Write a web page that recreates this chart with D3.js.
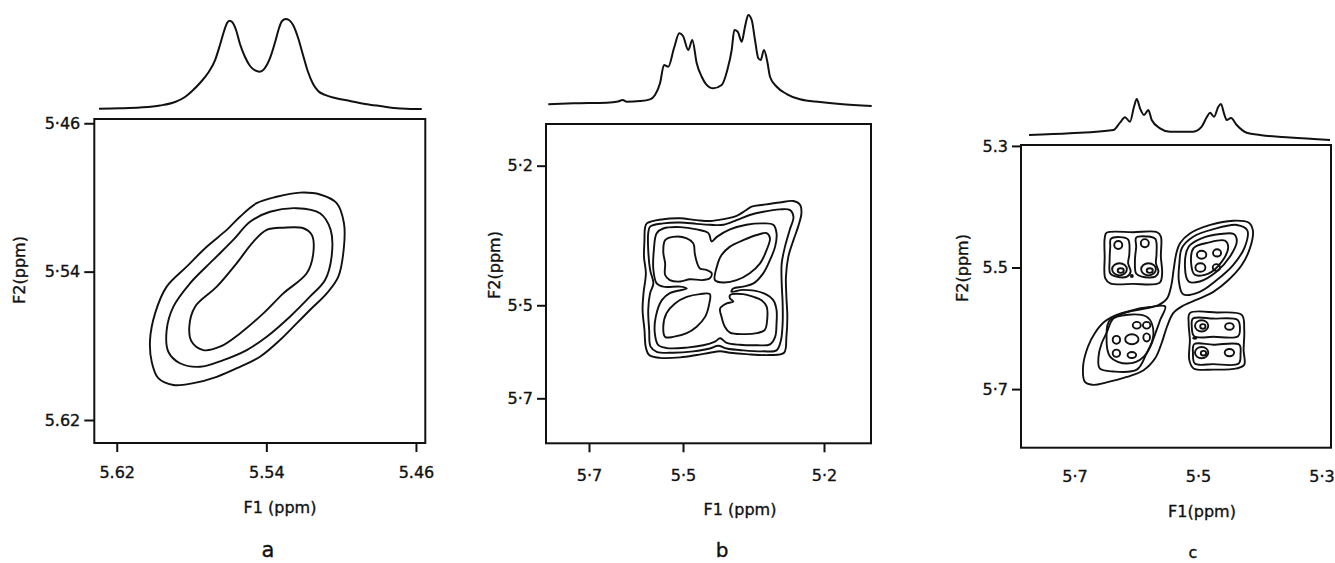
<!DOCTYPE html>
<html>
<head>
<meta charset="utf-8">
<script src="https://cdn.jsdelivr.net/npm/d3@7"></script>
<style>
  body { margin: 0; background: #fff; }
  text { font-family: "DejaVu Sans", sans-serif; fill: #111; stroke: #111; stroke-width: 0.35px; }
</style>
</head>
<body>
<div id="chart"></div>
<script>
//-------------------------------------------------------------------------------
// Data (ppm for positions, 0-100 for 1D intensity)

// panel a
const ticks_a_x = [5.62, 5.54, 5.46];
const labels_a_x = ["5.62", "5.54", "5.46"];
const ticks_a_y = [5.46, 5.54, 5.62];
const labels_a_y = ["5·46", "5·54", "5.62"];

const trace_a_ppm = [5.6295, 5.6182, 5.6075, 5.5968, 5.5888, 5.5835, 5.5797, 5.5755, 5.5712, 5.5674, 5.5648, 5.5626, 5.5610, 5.5597, 5.5583, 5.5562, 5.5541, 5.5514, 5.5487, 5.5460, 5.5436, 5.5412, 5.5380, 5.5353, 5.5332, 5.5316, 5.5296, 5.5279, 5.5257, 5.5230, 5.5204, 5.5177, 5.5150, 5.5123, 5.5086, 5.5032, 5.4952, 5.4872, 5.4792, 5.4685, 5.4631, 5.4569];
const trace_a_int = [0.3, 0.8, 1.7, 3.9, 7.8, 13.3, 20, 28.9, 40, 54.4, 71.1, 86.7, 95.6, 98.1, 96.7, 87.8, 72.2, 57.8, 47.8, 42.8, 41.4, 44.4, 56.7, 74.4, 90, 97.8, 100, 98.9, 93.3, 78.9, 60, 41.1, 27.8, 20, 15.6, 12.2, 8.9, 5.6, 3.3, 0.6, 0, 0];

const contours_a = [
  [[5.5220,5.4974],[5.5113,5.4984],[5.5024,5.5031],[5.4985,5.5139],[5.4985,5.5266],[5.5015,5.5427],[5.5077,5.5517],[5.5167,5.5607],[5.5238,5.5679],[5.5327,5.5769],[5.5434,5.5859],[5.5541,5.5913],[5.5665,5.5967],[5.5790,5.6001],[5.5897,5.6011],[5.5978,5.5974],[5.6013,5.5886],[5.6022,5.5769],[5.5995,5.5625],[5.5933,5.5481],[5.5826,5.5373],[5.5719,5.5266],[5.5612,5.5175],[5.5541,5.5104],[5.5452,5.5031],[5.5345,5.4996]],
  [[5.5238,5.5058],[5.5113,5.5085],[5.5056,5.5175],[5.5051,5.5319],[5.5086,5.5445],[5.5167,5.5535],[5.5274,5.5643],[5.5398,5.5751],[5.5505,5.5823],[5.5630,5.5877],[5.5755,5.5913],[5.5862,5.5894],[5.5924,5.5832],[5.5933,5.5715],[5.5897,5.5589],[5.5808,5.5463],[5.5684,5.5337],[5.5577,5.5229],[5.5487,5.5131],[5.5380,5.5077]],
  [[5.5202,5.5166],[5.5157,5.5202],[5.5149,5.5301],[5.5184,5.5409],[5.5309,5.5517],[5.5416,5.5625],[5.5541,5.5733],[5.5648,5.5805],[5.5737,5.5823],[5.5799,5.5778],[5.5812,5.5697],[5.5781,5.5589],[5.5665,5.5481],[5.5559,5.5355],[5.5470,5.5239],[5.5398,5.5175],[5.5309,5.5163]]
];

// panel b
const ticks_b_x = [5.7, 5.5, 5.2];
const labels_b_x = ["5·7", "5·5", "5·2"];
const ticks_b_y = [5.2, 5.5, 5.7];
const labels_b_y = ["5·2", "5·5", "5·7"];

const trace_b_ppm = [5.7866, 5.7334, 5.6623, 5.6383, 5.6283, 5.6198, 5.5915, 5.5702, 5.5596, 5.5489, 5.5404, 5.5313, 5.5191, 5.5079, 5.5000, 5.4887, 5.4802, 5.4708, 5.4602, 5.4511, 5.4355, 5.4177, 5.4057, 5.3964, 5.3908, 5.3836, 5.3751, 5.3681, 5.3611, 5.3538, 5.3468, 5.3398, 5.3347, 5.3277, 5.3206, 5.3149, 5.3006, 5.2794, 5.2511, 5.2085, 5.1660, 5.0985];
const trace_b_int = [0.8, 1.9, 2.6, 3.9, 5.6, 3.7, 4.4, 6.3, 11.1, 24.1, 44.4, 42.6, 63.3, 79.7, 76.7, 61.1, 72.2, 46.3, 31.4, 23.3, 18.6, 22.2, 38.9, 61.1, 83.3, 81.4, 70.3, 87, 100, 94.4, 72.2, 51.9, 50, 61.1, 48.1, 31.4, 20.3, 12.2, 6.3, 3.3, 1.1, -1.1];

const contours_b = [
  // four innermost lobes
  [[5.538,5.360],[5.521,5.353],[5.492,5.356],[5.478,5.367],[5.475,5.388],[5.471,5.406],[5.464,5.421],[5.450,5.424],[5.439,5.431],[5.443,5.442],[5.460,5.446],[5.485,5.444],[5.506,5.449],[5.528,5.446],[5.538,5.435],[5.538,5.410],[5.542,5.385]],
  [[5.432,5.446],[5.428,5.417],[5.418,5.392],[5.400,5.374],[5.372,5.360],[5.343,5.349],[5.322,5.345],[5.315,5.356],[5.322,5.381],[5.336,5.410],[5.358,5.431],[5.386,5.446],[5.414,5.451]],
  [[5.443,5.476],[5.444,5.496],[5.453,5.525],[5.471,5.546],[5.492,5.560],[5.521,5.568],[5.538,5.568],[5.542,5.546],[5.535,5.517],[5.517,5.496],[5.492,5.482],[5.464,5.476]],
  [[5.400,5.478],[5.372,5.476],[5.350,5.482],[5.333,5.489],[5.322,5.503],[5.321,5.532],[5.326,5.553],[5.343,5.560],[5.372,5.562],[5.400,5.559],[5.411,5.546],[5.418,5.525],[5.421,5.507],[5.407,5.496],[5.393,5.492],[5.400,5.485]],
  // second level
  [[5.556,5.345],[5.542,5.335],[5.506,5.332],[5.471,5.337],[5.446,5.345],[5.439,5.363],[5.428,5.353],[5.400,5.337],[5.365,5.327],[5.329,5.324],[5.308,5.327],[5.301,5.345],[5.304,5.374],[5.315,5.403],[5.329,5.431],[5.350,5.453],[5.372,5.460],[5.393,5.464],[5.397,5.471],[5.372,5.467],[5.329,5.474],[5.308,5.489],[5.301,5.510],[5.301,5.539],[5.304,5.568],[5.315,5.584],[5.343,5.586],[5.379,5.585],[5.407,5.581],[5.421,5.571],[5.432,5.578],[5.457,5.586],[5.492,5.591],[5.535,5.592],[5.553,5.585],[5.560,5.560],[5.558,5.525],[5.545,5.489],[5.528,5.474],[5.492,5.464],[5.506,5.460],[5.542,5.460],[5.556,5.453],[5.563,5.424],[5.562,5.381]],
  // third level
  [[5.570,5.331],[5.542,5.324],[5.506,5.322],[5.471,5.325],[5.443,5.327],[5.414,5.327],[5.386,5.317],[5.358,5.306],[5.329,5.299],[5.294,5.294],[5.273,5.295],[5.265,5.310],[5.273,5.338],[5.283,5.374],[5.290,5.410],[5.290,5.453],[5.288,5.496],[5.288,5.539],[5.292,5.577],[5.301,5.597],[5.329,5.599],[5.372,5.597],[5.407,5.593],[5.425,5.587],[5.443,5.593],[5.478,5.599],[5.521,5.602],[5.556,5.600],[5.569,5.589],[5.572,5.553],[5.574,5.510],[5.570,5.474],[5.563,5.453],[5.570,5.424],[5.574,5.381],[5.574,5.345]],
  // outermost level
  [[5.577,5.324],[5.542,5.315],[5.506,5.313],[5.471,5.317],[5.443,5.319],[5.414,5.315],[5.386,5.308],[5.368,5.297],[5.354,5.288],[5.329,5.284],[5.294,5.279],[5.265,5.276],[5.251,5.284],[5.248,5.302],[5.255,5.331],[5.265,5.360],[5.276,5.396],[5.281,5.439],[5.280,5.482],[5.278,5.525],[5.280,5.568],[5.285,5.602],[5.315,5.607],[5.365,5.605],[5.400,5.602],[5.421,5.599],[5.443,5.602],[5.471,5.607],[5.506,5.612],[5.549,5.613],[5.572,5.607],[5.579,5.591],[5.582,5.553],[5.586,5.510],[5.584,5.474],[5.579,5.431],[5.583,5.396],[5.582,5.360],[5.581,5.335]]
];

// panel c
const ticks_c_x = [5.7, 5.5, 5.3];
const labels_c_x = ["5·7", "5·5", "5·3"];
const ticks_c_y = [5.3, 5.5, 5.7];
const labels_c_y = ["5.3", "5.5", "5·7"];

const trace_c_ppm = [5.7785, 5.7121, 5.6420, 5.6312, 5.6231, 5.6150, 5.6085, 5.6041, 5.5988, 5.5923, 5.5853, 5.5798, 5.5664, 5.5502, 5.5125, 5.4989, 5.4908, 5.4854, 5.4789, 5.4720, 5.4676, 5.4628, 5.4584, 5.4514, 5.4422, 5.4260, 5.4045, 5.3559, 5.2911];
const trace_c_int = [12.2, 16.3, 24.4, 42.2, 55.4, 44.6, 81.2, 100, 77.3, 61, 73.2, 48.8, 28.5, 20.2, 20.2, 32.4, 55.4, 66.6, 56.8, 81.2, 87.8, 65.1, 48.8, 53.7, 36.6, 17.8, 12.2, 6.1, 0];

const contours_c = [
  // diagonal ridge, lowest level
  [[5.688,5.688],[5.691,5.663],[5.683,5.630],[5.672,5.608],[5.656,5.589],[5.631,5.576],[5.599,5.569],[5.569,5.562],[5.555,5.551],[5.548,5.529],[5.544,5.501],[5.540,5.477],[5.534,5.460],[5.518,5.444],[5.485,5.430],[5.448,5.423],[5.423,5.426],[5.416,5.439],[5.420,5.466],[5.434,5.496],[5.456,5.521],[5.480,5.540],[5.507,5.553],[5.531,5.564],[5.545,5.575],[5.555,5.597],[5.564,5.625],[5.574,5.649],[5.593,5.669],[5.620,5.680],[5.653,5.689],[5.674,5.693]],
  // upper-right diagonal peak
  [[5.531,5.468],[5.512,5.449],[5.480,5.437],[5.442,5.430],[5.425,5.439],[5.429,5.466],[5.448,5.496],[5.475,5.521],[5.502,5.540],[5.529,5.544],[5.536,5.521],[5.535,5.493]],
  [[5.520,5.466],[5.499,5.452],[5.469,5.445],[5.447,5.445],[5.442,5.457],[5.453,5.482],[5.475,5.507],[5.502,5.523],[5.520,5.523],[5.526,5.499]],
  [[5.512,5.468],[5.488,5.459],[5.461,5.456],[5.456,5.467],[5.466,5.490],[5.488,5.510],[5.510,5.512],[5.516,5.493]],
  // lower-left diagonal peak
  [[5.558,5.564],[5.566,5.586],[5.572,5.603],[5.580,5.625],[5.588,5.641],[5.604,5.668],[5.642,5.671],[5.664,5.666],[5.666,5.647],[5.661,5.625],[5.653,5.608],[5.642,5.584],[5.610,5.570],[5.583,5.565]],
  [[5.647,5.586],[5.588,5.581],[5.577,5.608],[5.593,5.647],[5.620,5.658],[5.647,5.647],[5.653,5.614]],
  // upper-left cross peak
  [[5.653,5.443],[5.610,5.442],[5.571,5.442],[5.565,5.449],[5.565,5.482],[5.563,5.510],[5.567,5.525],[5.610,5.527],[5.647,5.526],[5.655,5.518],[5.656,5.482],[5.656,5.452]],
  [[5.646,5.453],[5.631,5.450],[5.618,5.454],[5.616,5.477],[5.618,5.493],[5.614,5.507],[5.620,5.515],[5.637,5.515],[5.647,5.510],[5.648,5.488],[5.647,5.466]],
  [[5.605,5.451],[5.588,5.449],[5.574,5.453],[5.572,5.477],[5.573,5.493],[5.569,5.507],[5.574,5.515],[5.596,5.515],[5.605,5.510],[5.607,5.488],[5.605,5.466]],
  // lower-right cross peak
  [[5.518,5.575],[5.475,5.574],[5.434,5.578],[5.430,5.603],[5.431,5.636],[5.430,5.660],[5.442,5.666],[5.480,5.668],[5.512,5.666],[5.519,5.652],[5.518,5.619],[5.520,5.592]],
  [[5.513,5.584],[5.480,5.584],[5.441,5.586],[5.437,5.598],[5.440,5.613],[5.480,5.614],[5.511,5.613],[5.515,5.597]],
  [[5.511,5.626],[5.480,5.627],[5.438,5.627],[5.436,5.642],[5.439,5.658],[5.480,5.659],[5.510,5.658],[5.513,5.641]]
];

// small closed loops: [F1 centre, F2 centre, F1 half-width, F2 half-width]
const loops_c = [
  [5.634,5.463,0.0065,0.0066], [5.591,5.460,0.0065,0.0066],
  [5.632,5.503,0.0119,0.0099], [5.630,5.505,0.0049,0.0038],
  [5.585,5.503,0.0119,0.0099], [5.583,5.505,0.0049,0.0038],
  [5.612,5.514,0.0016,0.0016],
  [5.499,5.479,0.0076,0.0066], [5.474,5.476,0.0065,0.0060],
  [5.501,5.500,0.0081,0.0071], [5.475,5.500,0.0060,0.0055],
  [5.604,5.595,0.0065,0.0055], [5.588,5.595,0.0060,0.0055],
  [5.637,5.619,0.0060,0.0066], [5.612,5.618,0.0108,0.0082],
  [5.588,5.615,0.0054,0.0066], [5.637,5.641,0.0060,0.0060],
  [5.612,5.644,0.0070,0.0049],
  [5.499,5.596,0.0108,0.0093], [5.497,5.597,0.0043,0.0038],
  [5.454,5.597,0.0070,0.0055],
  [5.499,5.640,0.0108,0.0093], [5.496,5.641,0.0043,0.0038],
  [5.454,5.640,0.0076,0.0060], [5.510,5.616,0.0027,0.0011]
];

//-------------------------------------------------------------------------------
// Layout of the three panels
const panels = [
  { xDom: [5.632, 5.455], yDom: [5.4577, 5.6324], x0: 94.3, x1: 425.3, y0: 119, y1: 443,
    tBase: 109, tTop: 19, tickX: 9, padX: 15, tickY: 10, dxLab: 0,
    ppm: trace_a_ppm, int: trace_a_int, contours: contours_a, loops: [],
    tx: ticks_a_x, lx: labels_a_x, ty: ticks_a_y, ly: labels_a_y,
    f2: [20, 270], f1: [280, 508], f1Text: "F1 (ppm)", name: "a", nameAt: [268, 551], nameSize: 21 },
  { xDom: [5.7915, 5.1], yDom: [5.1104, 5.7967], x0: 546, x1: 871, y0: 124, y1: 443.3,
    tBase: 105, tTop: 15, tickX: 9, padX: 17, tickY: 9, dxLab: 0,
    ppm: trace_b_ppm, int: trace_b_int, contours: contours_b, loops: [],
    tx: ticks_b_x, lx: labels_b_x, ty: ticks_b_y, ly: labels_b_y,
    f2: [495, 265], f1: [740, 510], f1Text: "F1 (ppm)", name: "b", nameAt: [722, 551], nameSize: 20 },
  { xDom: [5.7915, 5.2895], yDom: [5.2985, 5.7964], x0: 1021, x1: 1331, y0: 145, y1: 447.7,
    tBase: 140, tTop: 99, tickX: 0, padX: 23, tickY: 9, dxLab: -3,
    ppm: trace_c_ppm, int: trace_c_int, contours: contours_c, loops: loops_c,
    tx: ticks_c_x, lx: labels_c_x, ty: ticks_c_y, ly: labels_c_y,
    f2: [963, 268], f1: [1202, 512], f1Text: "F1(ppm)", name: "c", nameAt: [1193, 553], nameSize: 16 }
];

const svg = d3.select("#chart")
  .append("svg")
    .attr("width", 1335)
    .attr("height", 563);

panels.forEach(p => {
  const x = d3.scaleLinear().domain(p.xDom).range([p.x0, p.x1]);
  const y = d3.scaleLinear().domain(p.yDom).range([p.y0, p.y1]);
  const yt = d3.scaleLinear().domain([0, 100]).range([p.tBase, p.tTop]);
  const g = svg.append("g");

  // 1D projection on top
  const trace = d3.line()
    .x(d => x(d[0]))
    .y(d => yt(d[1]))
    .curve(d3.curveMonotoneX);
  g.append("path")
    .datum(p.ppm.map((v, i) => [v, p.int[i]]).reverse())
    .attr("fill", "none")
    .attr("stroke", "#111")
    .attr("stroke-width", 2)
    .attr("stroke-linejoin", "round")
    .attr("d", trace);

  // contours
  const closed = d3.line()
    .x(d => x(d[0]))
    .y(d => y(d[1]))
    .curve(d3.curveCatmullRomClosed.alpha(0.5));
  g.selectAll(".contour")
    .data(p.contours)
    .enter().append("path")
    .attr("class", "contour")
    .attr("fill", "none")
    .attr("stroke", "#111")
    .attr("stroke-width", 1.9)
    .attr("d", closed);

  g.selectAll(".loop")
    .data(p.loops)
    .enter().append("ellipse")
    .attr("class", "loop")
    .attr("cx", d => x(d[0]))
    .attr("cy", d => y(d[1]))
    .attr("rx", d => Math.abs(x(d[0] + d[2]) - x(d[0])))
    .attr("ry", d => Math.abs(y(d[1] + d[3]) - y(d[1])))
    .attr("fill", "none")
    .attr("stroke", "#111")
    .attr("stroke-width", 1.9);

  // frame
  g.append("rect")
    .attr("x", p.x0)
    .attr("y", p.y0)
    .attr("width", p.x1 - p.x0)
    .attr("height", p.y1 - p.y0)
    .attr("fill", "none")
    .attr("stroke", "#111")
    .attr("stroke-width", 2);

  // axes
  const ax = g.append("g")
    .attr("transform", `translate(0,${p.y1})`)
    .call(d3.axisBottom(x)
      .tickValues(p.tx)
      .tickFormat((d, i) => p.lx[i])
      .tickSize(p.tickX)
      .tickSizeOuter(0)
      .tickPadding(p.padX));
  ax.select(".domain").remove();
  ax.selectAll(".tick text").attr("dx", p.dxLab);

  const ay = g.append("g")
    .attr("transform", `translate(${p.x0},0)`)
    .call(d3.axisLeft(y)
      .tickValues(p.ty)
      .tickFormat((d, i) => p.ly[i])
      .tickSize(p.tickY)
      .tickSizeOuter(0)
      .tickPadding(4));
  ay.select(".domain").remove();

  g.selectAll(".tick line")
    .attr("stroke", "#111")
    .attr("stroke-width", 2);
  g.selectAll(".tick text")
    .style("font-size", "16px")
    .style("font-family", "DejaVu Sans, sans-serif")
    .attr("fill", "#111");

  // axis titles
  g.append("text")
    .attr("transform", `translate(${p.f2[0]},${p.f2[1]}) rotate(-90)`)
    .attr("text-anchor", "middle")
    .attr("dominant-baseline", "middle")
    .style("font-size", "16px")
    .text("F2(ppm)");

  g.append("text")
    .attr("x", p.f1[0])
    .attr("y", p.f1[1])
    .attr("text-anchor", "middle")
    .attr("dominant-baseline", "middle")
    .style("font-size", "16px")
    .text(p.f1Text);

  g.append("text")
    .attr("x", p.nameAt[0])
    .attr("y", p.nameAt[1])
    .attr("text-anchor", "middle")
    .attr("dominant-baseline", "middle")
    .style("font-size", p.nameSize + "px")
    .text(p.name);
});
</script>
</body>
</html>
